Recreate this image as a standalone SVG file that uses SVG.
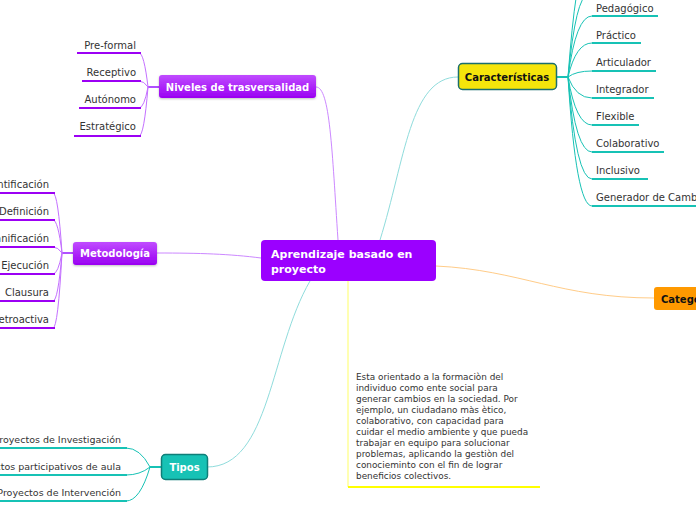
<svg xmlns="http://www.w3.org/2000/svg" width="696" height="520" viewBox="0 0 696 520">
<defs>
<linearGradient id="gPurple" x1="0" y1="0" x2="0" y2="1">
<stop offset="0" stop-color="#c04cff"/>
<stop offset="1" stop-color="#9a00f2"/>
</linearGradient>
<filter id="sh" x="-10%" y="-20%" width="120%" height="150%">
<feDropShadow dx="0" dy="1" stdDeviation="1" flood-color="#000" flood-opacity="0.25"/>
</filter>
</defs>
<style>
text{font-family:"DejaVu Sans","Verdana",sans-serif}
.lbl{font-size:10px;fill:#333}
.lblr{font-size:10px;fill:#333;text-anchor:end}
.tip{font-size:9.5px;fill:#333;text-anchor:end}
.ttl{font-size:10px;font-weight:bold;fill:#fff;text-anchor:middle}
.ulP{stroke:#9c00f4;stroke-width:2;fill:none}
.ulT{stroke:#17c2b5;stroke-width:2;fill:none}
.brP{stroke:#c470ff;stroke-width:1;fill:none}
.brT{stroke:#17c2b5;stroke-width:1;fill:none}
.desc{font-size:8.9px;fill:#333}
</style>
<rect width="696" height="520" fill="#fff"/>

<g id="connectors">
<path d="M316,87 C330,87 332,150 338,240" stroke="#cc88ff" stroke-width="1" fill="none"/>
<path d="M458,77 C410,77 405,160 380,240" stroke="#8fdcdc" stroke-width="1" fill="none"/>
<path d="M157,253 C200,253 230,254 261,258" stroke="#cc88ff" stroke-width="1" fill="none"/>
<path d="M207,467 C270,467 270,350 310,281" stroke="#8fdcdc" stroke-width="1" fill="none"/>
<path d="M436,266 C520,270 560,298 654,298" stroke="#ffcc88" stroke-width="1" fill="none"/>
<path d="M348,281 L348,487" stroke="#ffff66" stroke-width="1" fill="none"/>
<path d="M348,487 L540,487" stroke="#ffff00" stroke-width="2" fill="none"/>

<path d="M556,77 L568,77" stroke="#17c2b5" stroke-width="2"/>
<path class="brT" d="M568,77 Q576,-30 585,-30"/>
<path class="brT" d="M568,77 Q576,-5 588,-5"/>
<path class="brT" d="M568,77 Q576,16 592,16"/>
<path class="brT" d="M568,77 Q576,43 592,43"/>
<path class="brT" d="M568,77 Q576,71 592,71"/>
<path class="brT" d="M568,77 Q576,98 592,98"/>
<path class="brT" d="M568,77 Q576,125 592,125"/>
<path class="brT" d="M568,77 Q576,152 592,152"/>
<path class="brT" d="M568,77 Q576,179 592,179"/>
<path class="brT" d="M568,77 Q576,206 592,206"/>

<path d="M159,87 L148,87" stroke="#b050ff" stroke-width="2"/>
<path class="brP" d="M148,87 Q144,53 139,53"/>
<path class="brP" d="M148,87 Q144,81 139,81"/>
<path class="brP" d="M148,87 Q144,108 139,108"/>
<path class="brP" d="M148,87 Q144,136 139,136"/>

<path d="M73,253 L62,253" stroke="#b050ff" stroke-width="2"/>
<path class="brP" d="M62,253 Q58,193 53,193"/>
<path class="brP" d="M62,253 Q58,220 53,220"/>
<path class="brP" d="M62,253 Q58,247 53,247"/>
<path class="brP" d="M62,253 Q58,274 53,274"/>
<path class="brP" d="M62,253 Q58,301 53,301"/>
<path class="brP" d="M62,253 Q58,328 53,328"/>

<path d="M161,467 L150,467" stroke="#17c2b5" stroke-width="2"/>
<path class="brT" d="M150,467 Q140,448 126,448"/>
<path class="brT" d="M150,467 Q140,475 126,475"/>
<path class="brT" d="M150,467 Q140,501 126,501"/>
</g>

<g id="center">
<rect x="261" y="240" width="175" height="41" rx="4" fill="#9b00ff"/>
<text x="271" y="258" font-size="11" font-weight="bold" fill="#fff">Aprendizaje basado en</text>
<text x="271" y="273" font-size="11" font-weight="bold" fill="#fff">proyecto</text>
</g>

<g id="caracteristicas">
<rect x="458.5" y="63.5" width="98" height="26" rx="4" fill="#f5e50b" stroke="#1a6e6e" stroke-width="1.5"/>
<text x="507" y="81" font-size="10" font-weight="bold" fill="#111" text-anchor="middle">Características</text>
</g>
<g id="c-pedagogico"><path class="ulT" d="M592,16 L658,16"/><text class="lbl" x="596" y="12">Pedagógico</text></g>
<g id="c-practico"><path class="ulT" d="M592,43 L641,43"/><text class="lbl" x="596" y="39">Práctico</text></g>
<g id="c-articulador"><path class="ulT" d="M592,71 L656,71"/><text class="lbl" x="596" y="66">Articulador</text></g>
<g id="c-integrador"><path class="ulT" d="M592,98 L654,98"/><text class="lbl" x="596" y="93">Integrador</text></g>
<g id="c-flexible"><path class="ulT" d="M592,125 L639,125"/><text class="lbl" x="596" y="120">Flexible</text></g>
<g id="c-colaborativo"><path class="ulT" d="M592,152 L664,152"/><text class="lbl" x="596" y="147">Colaborativo</text></g>
<g id="c-inclusivo"><path class="ulT" d="M592,179 L648,179"/><text class="lbl" x="596" y="174">Inclusivo</text></g>
<g id="c-generador"><path class="ulT" d="M592,206 L700,206"/><text class="lbl" x="596" y="201">Generador de Cambio</text></g>

<g id="niveles">
<rect x="159" y="75" width="157" height="23" rx="3" fill="url(#gPurple)" filter="url(#sh)"/>
<text class="ttl" x="237.5" y="91">Niveles de trasversalidad</text>
</g>
<g id="n-preformal"><path class="ulP" d="M77,53 L141,53"/><text class="lblr" x="136" y="49">Pre-formal</text></g>
<g id="n-receptivo"><path class="ulP" d="M82,81 L141,81"/><text class="lblr" x="136" y="76">Receptivo</text></g>
<g id="n-autonomo"><path class="ulP" d="M79,108 L141,108"/><text class="lblr" x="136" y="103">Autónomo</text></g>
<g id="n-estrategico"><path class="ulP" d="M74,136 L141,136"/><text class="lblr" x="136" y="130">Estratégico</text></g>

<g id="metodologia">
<rect x="73" y="242" width="84" height="23" rx="3" fill="url(#gPurple)" filter="url(#sh)"/>
<text class="ttl" x="115" y="257">Metodología</text>
</g>
<g id="m-identificacion"><path class="ulP" d="M0,193 L55,193"/><text class="lblr" x="49" y="188">Identificación</text></g>
<g id="m-definicion"><path class="ulP" d="M0,220 L55,220"/><text class="lblr" x="49" y="215">Definición</text></g>
<g id="m-planificacion"><path class="ulP" d="M0,247 L55,247"/><text class="lblr" x="49" y="242">Planificación</text></g>
<g id="m-ejecucion"><path class="ulP" d="M0,274 L55,274"/><text class="lblr" x="49" y="269">Ejecución</text></g>
<g id="m-clausura"><path class="ulP" d="M0,301 L55,301"/><text class="lblr" x="49" y="296">Clausura</text></g>
<g id="m-retroactiva"><path class="ulP" d="M0,328 L55,328"/><text class="lblr" x="49" y="323">Retroactiva</text></g>

<g id="tipos">
<rect x="161.5" y="454.5" width="46" height="25" rx="4" fill="#17c2b5" stroke="#0f7e78" stroke-width="1.5"/>
<text class="ttl" x="184.5" y="471">Tipos</text>
</g>
<g id="t-investigacion"><path class="ulT" d="M0,448 L127,448"/><text class="tip" x="121" y="443">Proyectos de Investigación</text></g>
<g id="t-participativos"><path class="ulT" d="M0,475 L127,475"/><text class="tip" x="121" y="470">Proyectos participativos de aula</text></g>
<g id="t-intervencion"><path class="ulT" d="M0,501 L127,501"/><text class="tip" x="121" y="496">Proyectos de Intervención</text></g>

<g id="categorias">
<rect x="654" y="287" width="60" height="23" rx="3" fill="#ff9900"/>
<text x="661" y="303" font-size="10" font-weight="bold" fill="#111">Categorías</text>
</g>

<g id="descripcion">
<text class="desc" x="356" y="380">Esta orientado a la formaciòn del</text>
<text class="desc" x="356" y="391">individuo como ente social para</text>
<text class="desc" x="356" y="402">generar cambios en la sociedad. Por</text>
<text class="desc" x="356" y="413">ejemplo, un ciudadano màs ètico,</text>
<text class="desc" x="356" y="424">colaborativo, con capacidad para</text>
<text class="desc" x="356" y="435">cuidar el medio ambiente y que pueda</text>
<text class="desc" x="356" y="446">trabajar en equipo para solucionar</text>
<text class="desc" x="356" y="457">problemas, aplicando la gestiòn del</text>
<text class="desc" x="356" y="468">conocieminto con el fin de lograr</text>
<text class="desc" x="356" y="479">beneficios colectivos.</text>
</g>
</svg>
